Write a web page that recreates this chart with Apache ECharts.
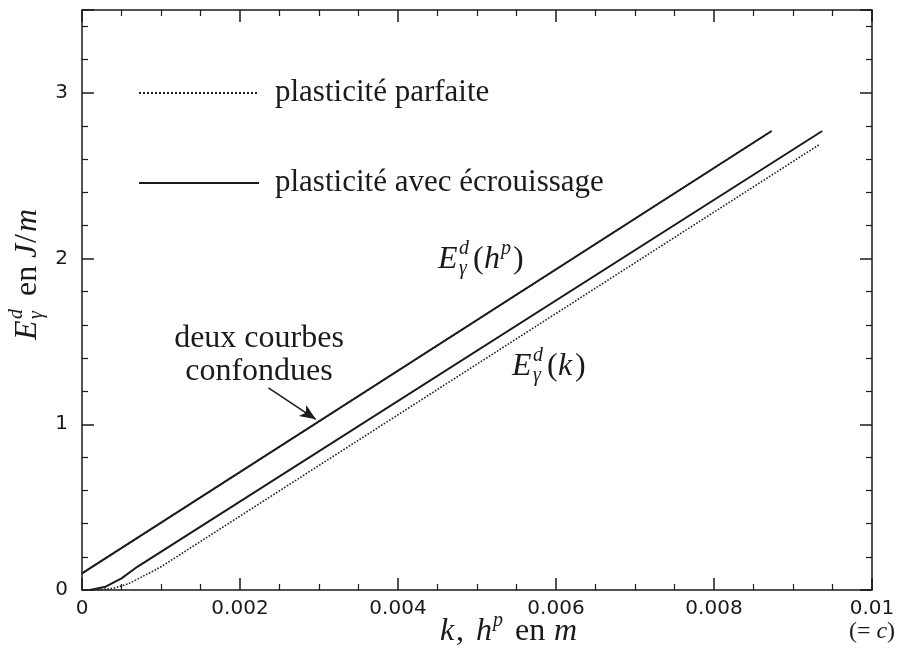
<!DOCTYPE html>
<html>
<head>
<meta charset="utf-8">
<script src="https://cdn.jsdelivr.net/npm/echarts@6/dist/echarts.min.js"></script>
<style>
  html, body { margin: 0; padding: 0; background: #fff; }
  #chart { width: 904px; height: 652px; }
</style>
</head>
<body>
<div id="chart"></div>
<script>
var legendNames = ['plasticité parfaite', 'plasticité avec écrouissage'];

// E(h^p): the two curves coincide
var hpCurve = [[0, 0.1], [0.00873, 2.77]];
// E(k), hardening (solid)
var kHard = [[0.0001, 0], [0.0003, 0.02], [0.0005, 0.07], [0.0007, 0.14], [0.00937, 2.77]];
// E(k), perfect plasticity (dotted)
var kPerf = [[0.0002, 0], [0.0004, 0.01], [0.0006, 0.04], [0.0008, 0.09], [0.0010, 0.14], [0.00934, 2.69]];

// arrow "deux courbes confondues"
var arrowFrom = [0.00236, 1.22];
var arrowTo = [0.00296, 1.03];

var serif = '"Liberation Serif", "DejaVu Serif", serif';
var ink = '#1a1a1a';

var chart = echarts.init(document.getElementById('chart'));

function mathGroup(x, y, parts, rotation) {
    return {
        type: 'group',
        x: x,
        y: y,
        rotation: rotation || 0,
        children: parts.map(function (p) {
            return {
                type: 'text',
                x: p[1],
                y: p[2],
                style: {
                    text: p[0],
                    font: (p[4] ? 'italic ' : '') + p[3] + 'px ' + serif,
                    fill: ink,
                    verticalAlign: 'middle'
                }
            };
        })
    };
}

function inner(pos) {
    var horiz = pos === 'bottom' || pos === 'top';
    return {
        type: 'value',
        position: pos,
        min: 0,
        max: horiz ? 0.01 : 3.5,
        interval: horiz ? 0.002 : 1,
        axisLine: { show: true, onZero: false, lineStyle: { color: ink, width: 1.5 } },
        axisTick: { show: true, inside: true, length: 12, lineStyle: { color: ink, width: 1.5 } },
        minorTick: { show: true, splitNumber: horiz ? 4 : 5, length: 6, lineStyle: { color: ink, width: 1.2 } },
        splitLine: { show: false },
        axisLabel: { show: false }
    };
}

var xBottom = inner('bottom');
xBottom.axisLabel = {
    show: true,
    margin: 8,
    fontFamily: 'DejaVu Sans',
    fontSize: 20,
    color: ink,
    lineHeight: 22,
    formatter: function (v) {
        if (Math.abs(v - 0.01) < 1e-9) return '0.01\n{s|(= }{c|c}{s|)}';
        return String(+v.toFixed(3));
    },
    rich: {
        s: { fontFamily: serif, fontSize: 24, color: ink, lineHeight: 24 },
        c: { fontFamily: serif, fontSize: 24, fontStyle: 'italic', color: ink, lineHeight: 24 }
    }
};
var yLeft = inner('left');
yLeft.axisLabel = { show: true, margin: 14, showMaxLabel: false, fontFamily: 'DejaVu Sans', fontSize: 20, color: ink };

option = {
    animation: false,
    backgroundColor: '#fff',
    color: [ink, ink],
    grid: { left: 82, right: 32, top: 10, bottom: 62 },
    xAxis: [xBottom, inner('top')],
    yAxis: [yLeft, inner('right')],
    legend: {
        orient: 'vertical',
        left: 133,
        top: 72,
        itemWidth: 120,
        itemHeight: 20,
        itemGap: 58,
        data: legendNames,
        selectedMode: false,
        itemStyle: { opacity: 0 },
        textStyle: { fontFamily: serif, fontSize: 31, lineHeight: 32, color: ink, padding: [0, 0, 0, 11] }
    },
    series: [{
        name: legendNames[0],
        type: 'line',
        data: kPerf,
        symbol: 'none',
        lineStyle: { color: '#222', width: 1.6, type: 'dotted' }
    }, {
        name: legendNames[0],
        type: 'line',
        data: hpCurve,
        symbol: 'none',
        lineStyle: { color: '#222', width: 1.6, type: 'dotted' }
    }, {
        name: legendNames[1],
        type: 'line',
        data: kHard,
        symbol: 'none',
        lineStyle: { color: ink, width: 2 }
    }, {
        name: legendNames[1],
        type: 'line',
        data: hpCurve,
        symbol: 'none',
        lineStyle: { color: ink, width: 2 },
        markLine: {
            silent: true,
            symbol: ['none', 'arrow'],
            symbolSize: [10, 16],
            label: { show: false },
            lineStyle: { color: ink, width: 1.5, type: 'solid' },
            data: [[{ coord: arrowFrom }, { coord: arrowTo }]]
        }
    }],
    graphic: [
        mathGroup(438, 260, [['E', 0, 0, 32, 1], ['d', 21, -11, 20, 1], ['γ', 21, 9, 20, 1],
            ['(', 35, 0, 32], ['h', 46, 0, 32, 1], ['p', 63, -11, 20, 1], [')', 75, 0, 32]]),
        mathGroup(512, 367, [['E', 0, 0, 32, 1], ['d', 21, -11, 20, 1], ['γ', 21, 9, 20, 1],
            ['(', 35, 0, 32], ['k', 46, 0, 32, 1], [')', 63, 0, 32]]),
        {
            type: 'text',
            x: 259,
            y: 355,
            style: {
                text: 'deux courbes\nconfondues',
                font: '32px ' + serif,
                lineHeight: 33,
                fill: ink,
                align: 'center',
                verticalAlign: 'middle'
            }
        },
        mathGroup(28, 270, [['E', -70, 0, 32, 1], ['d', -49, -11, 20, 1], ['γ', -49, 9, 20, 1],
            ['en', -26, 0, 32], ['J', 12, 0, 32, 1], ['/', 27, 0, 32], ['m', 38, 0, 32, 1]], Math.PI / 2),
        mathGroup(440, 632, [['k', 0, 0, 32, 1], [',', 16, 0, 32], ['h', 36, 0, 32, 1], ['p', 53, -11, 20, 1],
            ['en', 75, 0, 32], ['m', 114, 0, 32, 1]])
    ]
};

chart.setOption(option);
window.addEventListener('resize', chart.resize);
</script>
</body>
</html>
